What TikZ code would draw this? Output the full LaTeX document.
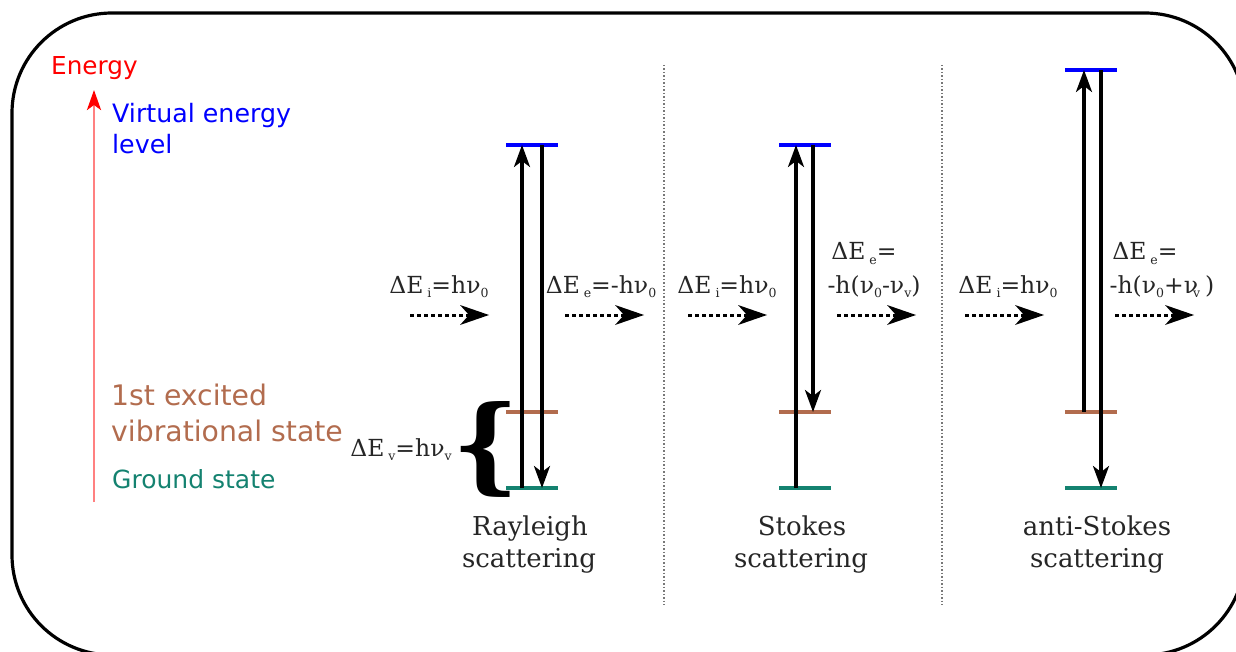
\documentclass[tikz,border=0pt]{standalone}
\usepackage{fontspec}
\setmainfont{DejaVu Serif}
\newfontfamily\sansf{DejaVu Sans}
\usetikzlibrary{arrows.meta}
\definecolor{lvblue}{RGB}{0,0,255}
\definecolor{lvbrown}{RGB}{178,108,78}
\definecolor{lvteal}{RGB}{20,130,112}
\definecolor{enred}{RGB}{255,0,0}
\definecolor{sepgray}{RGB}{120,120,120}
\newcommand\sbs[1]{\raisebox{-0.4ex}{\fontsize{12.5}{12.5}\selectfont #1}}
\tikzset{
  lbl/.style={inner sep=0pt, anchor=base west, font=\sansf\fontsize{25}{30}\selectfont},
  fml/.style={inner sep=0pt, anchor=base, font=\fontsize{23.5}{27}\selectfont, text=black!85},
  captxt/.style={inner sep=0pt, anchor=base, font=\fontsize{26}{30}\selectfont, text=black!85},
  lev/.style={line width=3.2pt},
  tr/.style={line width=3.2pt, -{Stealth[length=22pt,width=16pt,inset=6pt]}},
  photon/.style={line width=3pt, dash pattern=on 4pt off 3pt, -{Stealth[length=29pt,width=20pt,inset=9pt,line width=0pt]}},
  sep/.style={line width=1.4pt, sepgray, dash pattern=on 1.5pt off 2pt},
}
\begin{document}
\begin{tikzpicture}[x=1pt,y=-1pt]
\useasboundingbox (0,0) rectangle (1236,652);
\clip (0,0) rectangle (1236,652);
\draw[line width=3.2pt, rounded corners=100pt] (12,13) rectangle (1245,655);

% energy axis
\coordinate (eb) at (94,502);
\coordinate (et) at (94,90);
\draw[line width=2.8pt, red!50, -{Stealth[length=20pt,width=14pt,inset=5pt,red]}] (eb) -- (et);
\node[lbl, text=enred, font=\sansf\fontsize{24.7}{28}\selectfont] (energy) at (51,75) {Energy};
\node[lbl, text=lvblue, font=\sansf\fontsize{25.3}{30}\selectfont] (virt1) at (112,123) {Virtual energy};
\node[lbl, text=lvblue, font=\sansf\fontsize{25.3}{30}\selectfont] (virt2) at (112,154) {level};
\node[lbl, text=lvbrown, font=\sansf\fontsize{28.3}{32}\selectfont] (exc1) at (111,405) {1st excited};
\node[lbl, text=lvbrown, font=\sansf\fontsize{28.3}{32}\selectfont] (exc2) at (111,441) {vibrational state};
\node[lbl, text=lvteal] (ground) at (112,488) {Ground state};

% separators
\coordinate (s1t) at (664,65); \coordinate (s1b) at (664,605);
\coordinate (s2t) at (942,65); \coordinate (s2b) at (942,605);
\draw[sep] (s1t) -- (s1b);
\draw[sep] (s2t) -- (s2b);

% levels
\foreach \n/\cx/\vy in {R/532/145, S/805/145, A/1091/70}{
  \draw[lev, lvblue] (\cx-26,\vy) -- (\cx+26,\vy);
  \draw[lev, lvbrown] (\cx-26,412) -- (\cx+26,412);
  \draw[lev, lvteal] (\cx-26,488) -- (\cx+26,488);
}

% Rayleigh transitions
\coordinate (Ru0) at (522,488); \coordinate (Ru1) at (522,145);
\coordinate (Rd0) at (542,145); \coordinate (Rd1) at (542,488);
\draw[tr] (Ru0) -- (Ru1);
\draw[tr] (Rd0) -- (Rd1);
% Stokes
\coordinate (Su0) at (796,488); \coordinate (Su1) at (796,145);
\coordinate (Sd0) at (813,145); \coordinate (Sd1) at (813,412);
\draw[tr] (Su0) -- (Su1);
\draw[tr] (Sd0) -- (Sd1);
% anti-Stokes
\coordinate (Au0) at (1084,412); \coordinate (Au1) at (1084,70);
\coordinate (Ad0) at (1101,70); \coordinate (Ad1) at (1101,488);
\draw[tr] (Au0) -- (Au1);
\draw[tr] (Ad0) -- (Ad1);

% photons
\foreach \n/\a/\b in {p1/410/489, p2/565/644, p3/688/767, p4/837/916, p5/965/1044, p6/1115/1194}{
  \coordinate (\n a) at (\a,315); \coordinate (\n b) at (\b,315);
  \draw[photon] (\n a) -- (\n b);
}

% formula labels
\node[fml] (f1) at (439,293) {ΔE\,\sbs{i}=hν\sbs{0}};
\node[fml] (f2) at (601,293) {ΔE\,\sbs{e}=-hν\sbs{0}};
\node[fml] (f3) at (727,293) {ΔE\,\sbs{i}=hν\sbs{0}};
\node[fml] (f4a) at (864,260) {ΔE\,\sbs{e}=};
\node[fml] (f4b) at (874,293) {-h(ν\sbs{0}-ν\sbs{v})};
\node[fml] (f5) at (1008,293) {ΔE\,\sbs{i}=hν\sbs{0}};
\node[fml] (f6a) at (1145,260) {ΔE\,\sbs{e}=};
\node[fml] (f6b) at (1162,293) {-h(ν\sbs{0}+ν\kern-5pt\sbs{v}\kern5pt)};

% brace
\node[inner sep=0pt, font=\bfseries\fontsize{104}{104}\selectfont] (brace) at (486,449) {\{};
\node[fml] (fv) at (401,456) {ΔE\,\sbs{v}=hν\sbs{v}};

% captions
\node[captxt] (c1a) at (530,535) {Rayleigh};
\node[captxt] (c1b) at (529,567) {scattering};
\node[captxt] (c2a) at (802,535) {Stokes};
\node[captxt] (c2b) at (801,567) {scattering};
\node[captxt] (c3a) at (1097,535) {anti-Stokes};
\node[captxt] (c3b) at (1097,567) {scattering};
\end{tikzpicture}
\end{document}
